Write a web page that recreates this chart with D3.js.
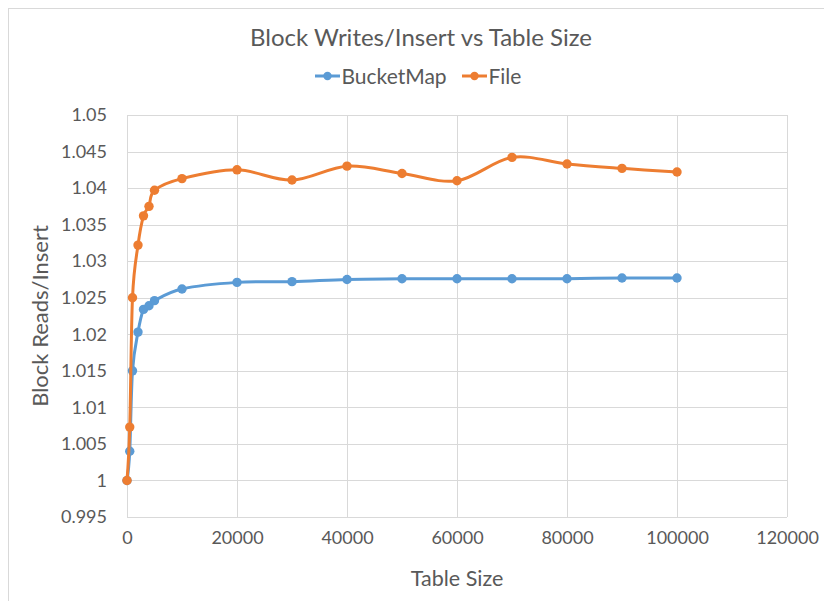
<!DOCTYPE html>
<html>
<head>
<meta charset="utf-8">
<script src="https://cdn.jsdelivr.net/npm/d3@7/dist/d3.min.js"></script>
<style>
  html, body { margin: 0; padding: 0; background: #fff; }
  svg { display: block; }
  text { font-family: Lato, "Open Sans", sans-serif; fill: #595959; }
</style>
</head>
<body>
<svg id="chart" width="824" height="601"></svg>
<script>
// Table sizes at which block writes per insert were measured
const tableSizes = [0, 500, 1000, 2000, 3000, 4000, 5000, 10000, 20000, 30000, 40000, 50000, 60000, 70000, 80000, 90000, 100000];
const bucketMapValues = [1.0, 1.0040, 1.0150, 1.0203, 1.0234, 1.0239, 1.0246, 1.0262, 1.0271, 1.0272, 1.0275, 1.0276, 1.0276, 1.0276, 1.0276, 1.0277, 1.0277];
const fileValues = [1.0, 1.0073, 1.0250, 1.0322, 1.0362, 1.0375, 1.0397, 1.0413, 1.0425, 1.0411, 1.0430, 1.0420, 1.0410, 1.0442, 1.0433, 1.0427, 1.0422];
const xTicks = [0, 20000, 40000, 60000, 80000, 100000, 120000];
const yTicks = [0.995, 1, 1.005, 1.01, 1.015, 1.02, 1.025, 1.03, 1.035, 1.04, 1.045, 1.05];
const seriesNames = ["BucketMap", "File"];
const seriesColors = ["#5B9BD5", "#ED7D31"];

const series = [
  { name: seriesNames[0], color: seriesColors[0], values: bucketMapValues },
  { name: seriesNames[1], color: seriesColors[1], values: fileValues }
];

const svg = d3.select("#chart");

// Outer chart frame
svg.append("rect")
  .attr("x", 8.5).attr("y", 8.5)
  .attr("width", 830).attr("height", 610)
  .attr("fill", "none").attr("stroke", "#D9D9D9");

const plot = { left: 127, right: 787, top: 115, bottom: 517 };

const x = d3.scaleLinear().domain([0, 120000]).range([plot.left, plot.right]);
const y = d3.scaleLinear().domain([0.995, 1.05]).range([plot.bottom, plot.top]);

// Gridlines
const grid = svg.append("g").attr("stroke", "#D9D9D9").attr("stroke-width", 1);
grid.selectAll("line.h").data(yTicks).join("line")
  .attr("x1", plot.left).attr("x2", plot.right)
  .attr("y1", d => Math.round(y(d)) + 0.5).attr("y2", d => Math.round(y(d)) + 0.5);
grid.selectAll("line.v").data(xTicks).join("line")
  .attr("y1", plot.top).attr("y2", plot.bottom)
  .attr("x1", d => Math.round(x(d)) + 0.5).attr("x2", d => Math.round(x(d)) + 0.5);

// Axes (labels only, Excel style)
const yAxis = d3.axisLeft(y).tickValues(yTicks).tickSize(0).tickPadding(20)
  .tickFormat(d => String(+d.toFixed(3)));
svg.append("g").attr("transform", `translate(${plot.left},0)`).call(yAxis)
  .call(g => g.select(".domain").remove())
  .call(g => g.selectAll("text").attr("font-size", 18).style("font-family", "Lato").attr("fill", "#595959"));

const xAxis = d3.axisBottom(x).tickValues(xTicks).tickSize(0).tickPadding(14)
  .tickFormat(d => String(d));
svg.append("g").attr("transform", `translate(0,${plot.bottom})`).call(xAxis)
  .call(g => g.select(".domain").remove())
  .call(g => g.selectAll("text").attr("font-size", 18).style("font-family", "Lato").attr("fill", "#595959"));

// Title
svg.append("text")
  .attr("x", 421).attr("y", 46)
  .attr("text-anchor", "middle")
  .attr("font-size", 24)
  .text("Block Writes/Insert vs Table Size");

// Axis titles
svg.append("text")
  .attr("x", 457).attr("y", 586)
  .attr("text-anchor", "middle")
  .attr("font-size", 21.5)
  .text("Table Size");

svg.append("text")
  .attr("transform", `translate(48,${(plot.top + plot.bottom) / 2}) rotate(-90)`)
  .attr("text-anchor", "middle")
  .attr("font-size", 22)
  .text("Block Reads/Insert");

// Lines and markers
const line = d3.line()
  .x((d, i) => x(tableSizes[i]))
  .y(d => y(d))
  .curve(d3.curveCatmullRom.alpha(0));

series.forEach(s => {
  svg.append("path")
    .datum(s.values)
    .attr("fill", "none")
    .attr("stroke", s.color)
    .attr("stroke-width", 3)
    .attr("stroke-linejoin", "round")
    .attr("stroke-linecap", "round")
    .attr("d", line);
  svg.append("g").selectAll("circle").data(s.values).join("circle")
    .attr("cx", (d, i) => x(tableSizes[i]))
    .attr("cy", d => y(d))
    .attr("r", 4.7)
    .attr("fill", s.color);
});

// Legend
const legendItems = [
  { name: seriesNames[0], color: seriesColors[0], x: 315 },
  { name: seriesNames[1], color: seriesColors[1], x: 462 }
];
const legend = svg.append("g");
legendItems.forEach(item => {
  const g = legend.append("g").attr("transform", `translate(${item.x},76)`);
  g.append("line").attr("x1", 0).attr("x2", 25).attr("y1", 0).attr("y2", 0)
    .attr("stroke", item.color).attr("stroke-width", 3);
  g.append("circle").attr("cx", 12.5).attr("cy", 0).attr("r", 4.2).attr("fill", item.color);
  g.append("text").attr("x", 26.5).attr("y", 7.5).attr("font-size", 21).text(item.name);
});
</script>
</body>
</html>
